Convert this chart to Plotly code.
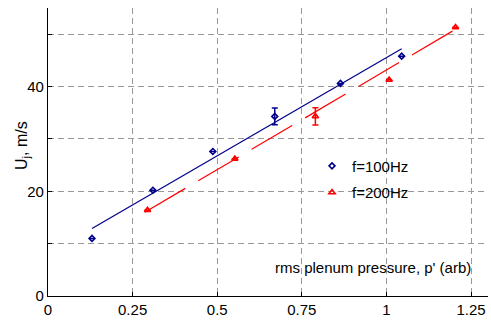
import plotly.graph_objects as go

# f = 100 Hz data
p100 = [0.13, 0.31, 0.487, 0.67, 0.864, 1.045]
u100 = [11.0, 20.2, 27.6, 34.3, 40.6, 45.8]
err100 = [0, 0, 0, 1.6, 0, 0]
fit100_x = [0.13, 1.045]
fit100_y = [12.9, 47.2]

# f = 200 Hz data
p200 = [0.294, 0.552, 0.79, 1.008, 1.204]
u200 = [16.4, 26.2, 34.3, 41.3, 51.3]
err200 = [0, 0, 1.65, 0, 0]
fit200_x = [0.286, 1.198]
fit200_y = [16.0, 50.7]

xticks = [0, 0.25, 0.5, 0.75, 1, 1.25]
xticklabels = ["0", "0.25", "0.5", "0.75", "1", "1.25"]
yticks = [0, 10, 20, 30, 40, 50]
yticklabels = ["0", "", "20", "", "40", ""]

BLUE = "#00008c"
RED = "#ff0000"
FONT = "Liberation Sans, Arial, Helvetica, sans-serif"

fig = go.Figure()
fig.add_trace(go.Scatter(x=fit100_x, y=fit100_y, mode="lines",
                         line=dict(color=BLUE, width=1.2), showlegend=False, hoverinfo="skip"))
fig.add_trace(go.Scatter(x=fit200_x, y=fit200_y, mode="lines",
                         line=dict(color=RED, width=1.2, dash="47px,15px"), showlegend=False, hoverinfo="skip"))
fig.add_trace(go.Scatter(x=p100, y=u100, mode="markers", name="f=100Hz",
                         marker=dict(symbol="diamond-open", size=4.5, color=BLUE, line=dict(width=1.6)),
                         error_y=dict(type="data", array=err100, visible=True, color=BLUE, thickness=1.5, width=3),
                         legendgroup="a"))
fig.add_trace(go.Scatter(x=p200, y=u200, mode="markers", name="f=200Hz",
                         marker=dict(symbol="triangle-up-open", size=5.5, color=RED, line=dict(width=1.6)),
                         error_y=dict(type="data", array=err200, visible=True, color=RED, thickness=1.5, width=3),
                         legendgroup="b"))

fig.add_annotation(x=1.255, y=5.35, xref="x", yref="y", xanchor="right", yanchor="middle",
                   text="rms plenum pressure, p' (arb)", showarrow=False,
                   font=dict(family=FONT, size=15, color="black"))
fig.add_annotation(x=0, y=0.5, xref="paper", yref="paper", xanchor="center", yanchor="middle",
                   xshift=-26, yshift=6, textangle=-90,
                   text="U<sub>j</sub>, m/s", showarrow=False,
                   font=dict(family=FONT, size=16, color="black"))

fig.update_layout(
    width=491, height=320,
    margin=dict(l=48, r=3, t=8, b=24),
    paper_bgcolor="white", plot_bgcolor="white",
    font=dict(family=FONT, size=15, color="black"),
    legend=dict(x=0.6, y=0.406, xanchor="left", yanchor="middle", bgcolor="rgba(0,0,0,0)",
                font=dict(size=15), tracegroupgap=4, itemwidth=30),
    xaxis=dict(range=[0, 1.3], tickvals=xticks, ticktext=xticklabels,
               showgrid=True, gridcolor="#999999", griddash="6px,4px", gridwidth=1,
               showline=True, linecolor="black", linewidth=1.2,
               ticks="inside", ticklen=4, tickcolor="black", zeroline=False,
               tickfont=dict(size=15)),
    yaxis=dict(range=[0, 55], tickvals=yticks, ticktext=yticklabels,
               showgrid=True, gridcolor="#999999", griddash="6px,4px", gridwidth=1,
               showline=True, linecolor="black", linewidth=1.2,
               ticks="inside", ticklen=4, tickcolor="black", zeroline=False,
               tickfont=dict(size=15)),
)

fig.write_html("out.html")
